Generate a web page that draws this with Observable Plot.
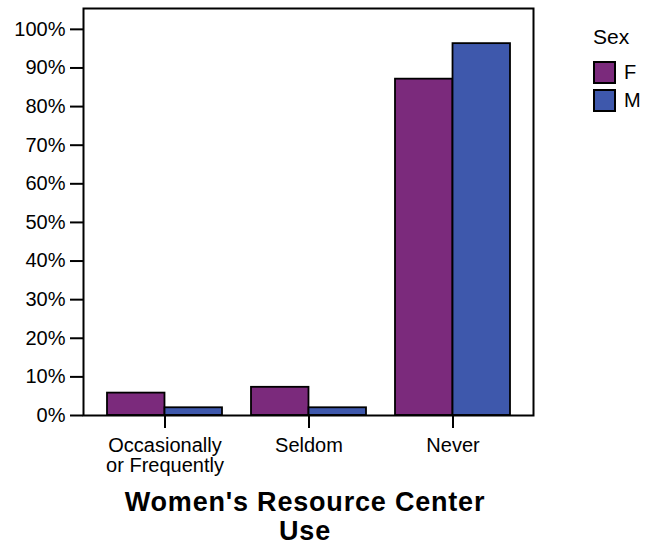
<!DOCTYPE html>
<html>
<head>
<meta charset="utf-8">
<script src="https://cdn.jsdelivr.net/npm/d3@7"></script>
<script src="https://cdn.jsdelivr.net/npm/@observablehq/plot@0.6"></script>
<style>
  html, body { margin: 0; padding: 0; background: #fff; }
  #wrap { position: relative; width: 654px; height: 547px; font-family: "Liberation Sans", Arial, sans-serif; color: #000; }
  #chart { position: absolute; left: 0; top: 0; }
  #legend { position: absolute; left: 593px; top: 25px; }
  #legend .ttl { font-size: 21px; line-height: 24px; margin-bottom: 12px; }
  #legend .row { display: flex; align-items: center; height: 23px; margin-bottom: 5px; }
  #legend .sw { width: 23px; height: 23px; box-sizing: border-box; border: 2px solid #000; }
  #legend .lab { font-size: 20px; margin-left: 8px; }
  #title { position: absolute; left: 105px; width: 400px; top: 488px; text-align: center; font-weight: bold; font-size: 27px; line-height: 29px; letter-spacing: 0.8px; }
</style>
</head>
<body>
<div id="wrap">
  <div id="chart"></div>
  <div id="legend"></div>
  <div id="title">Women's Resource Center<br>Use</div>
</div>
<script>
const categories = ["Occasionally\nor Frequently", "Seldom", "Never"];
const sexes = ["F", "M"];
const sexColors = ["#7b2a7c", "#3e58ac"];
const femalePct = [5.8, 7.3, 87.1];
const malePct = [2.0, 2.0, 96.3];
const yTicks = [0, 10, 20, 30, 40, 50, 60, 70, 80, 90, 100];
const legendTitle = "Sex";

const data = categories.flatMap((c, i) => [
  {cat: c, sex: "F", pct: femalePct[i]},
  {cat: c, sex: "M", pct: malePct[i]}
]);

const W = 545, H = 475, ML = 83, MR = 12, MT = 8, MB = 60;
const padIn = 0.204, padOut = 0.159;
// bandwidth of the category band scale, split in two halves for F / M
const bw = d3.scaleBand(categories, [ML, W - MR]).paddingInner(padIn).paddingOuter(padOut).bandwidth();
const half = bw / 2;

const plot = Plot.plot({
  width: W,
  height: H,
  marginLeft: ML,
  marginRight: MR,
  marginTop: MT,
  marginBottom: MB,
  style: {fontFamily: "'Liberation Sans', Arial, sans-serif", fontSize: "20px", color: "#000", background: "#fff", overflow: "visible"},
  x: {domain: categories, paddingInner: padIn, paddingOuter: padOut, label: null},
  y: {domain: [0, 105.4], label: null},
  color: {domain: sexes, range: sexColors},
  marks: [
    Plot.barY(data.filter(d => d.sex === "F"), {x: "cat", y: "pct", fill: "sex", stroke: "#000", strokeWidth: 1.8, insetRight: half}),
    Plot.barY(data.filter(d => d.sex === "M"), {x: "cat", y: "pct", fill: "sex", stroke: "#000", strokeWidth: 1.8, insetLeft: half}),
    Plot.frame({stroke: "#000", strokeWidth: 2}),
    Plot.axisY({ticks: yTicks, tickFormat: d => d + "%", tickSize: 13, tickPadding: 5, strokeWidth: 2, label: null, fill: "#000"}),
    Plot.axisX({anchor: "bottom", tickSize: 13, tickPadding: 9, strokeWidth: 2, label: null, lineHeight: 1, fill: "#000"})
  ]
});

document.getElementById("chart").appendChild(plot);

// legend
const lg = d3.select("#legend");
lg.append("div").attr("class", "ttl").text(legendTitle);
sexes.forEach((s, i) => {
  const row = lg.append("div").attr("class", "row");
  row.append("div").attr("class", "sw").style("background", sexColors[i]);
  row.append("div").attr("class", "lab").text(s);
});
</script>
</body>
</html>
